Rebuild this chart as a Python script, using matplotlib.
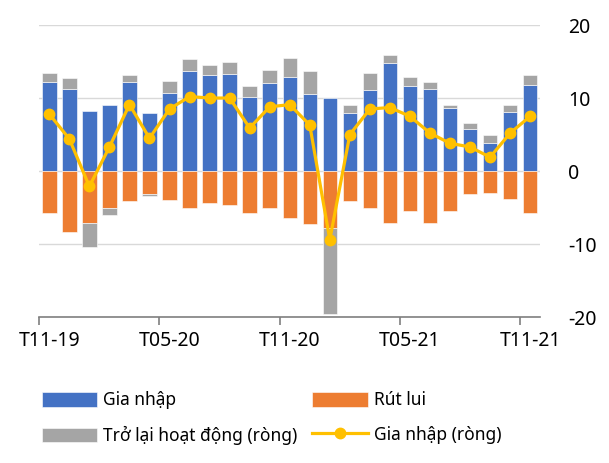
import matplotlib
matplotlib.use("Agg")
import matplotlib.pyplot as plt
import numpy as np

months = ["T11-19", "T12-19", "T01-20", "T02-20", "T03-20", "T04-20", "T05-20",
          "T06-20", "T07-20", "T08-20", "T09-20", "T10-20", "T11-20", "T12-20",
          "T01-21", "T02-21", "T03-21", "T04-21", "T05-21", "T06-21", "T07-21",
          "T08-21", "T09-21", "T10-21", "T11-21"]
gia_nhap = [12.2, 11.3, 8.2, 9.1, 12.2, 7.9, 10.7, 13.7, 13.1, 13.3, 10.2, 12.1, 12.9,
            10.6, 10.0, 8.0, 11.1, 14.8, 11.6, 11.2, 8.7, 5.8, 3.9, 8.1, 11.8]
rut_lui = [-5.7, -8.3, -7.1, -5.0, -4.1, -3.1, -4.0, -5.1, -4.4, -4.7, -5.7, -5.0, -6.4,
           -7.3, -7.8, -4.1, -5.0, -7.1, -5.5, -7.1, -5.4, -3.2, -3.0, -3.8, -5.7]
tro_lai = [1.2, 1.4, -3.3, -1.0, 1.0, -0.3, 1.6, 1.7, 1.4, 1.6, 1.4, 1.7, 2.6,
           3.1, -11.7, 1.0, 2.3, 1.1, 1.3, 1.0, 0.4, 0.8, 1.0, 0.9, 1.4]
rong = [7.8, 4.4, -2.1, 3.3, 9.1, 4.5, 8.5, 10.2, 10.0, 10.0, 5.9, 8.8, 9.1,
        6.3, -9.4, 5.0, 8.5, 8.7, 7.5, 5.2, 3.8, 3.3, 1.9, 5.2, 7.5]
label_months = ["T11-19", "T05-20", "T11-20", "T05-21", "T11-21"]

plt.rcParams["font.family"] = ["Noto Sans", "DejaVu Sans"]
plt.rcParams["axes.unicode_minus"] = False

BLUE = "#4472C4"
ORANGE = "#ED7D31"
GRAY = "#A5A5A5"
GOLD = "#FFC000"

fig = plt.figure(figsize=(6.09, 4.63), dpi=100)
ax = fig.add_axes([0.0645, 0.315, 0.8225, 0.631])

x = np.arange(len(months))
w = 0.72
tro = np.array(tro_lai)
gray_bottom = np.where(tro >= 0, np.array(gia_nhap), np.array(rut_lui))

b_in = ax.bar(x, gia_nhap, w, color=BLUE, edgecolor="white", linewidth=0.4, zorder=2)
b_out = ax.bar(x, rut_lui, w, color=ORANGE, edgecolor="white", linewidth=0.4, zorder=2)
b_back = ax.bar(x, tro, w, bottom=gray_bottom, color=GRAY, edgecolor="white",
                linewidth=0.4, zorder=2)
ln, = ax.plot(x, rong, color=GOLD, lw=2.3, marker="o", ms=7.5, zorder=3)

ax.set_xlim(-0.5, len(months) - 0.5)
ax.set_ylim(-20, 20)
ax.set_yticks([-20, -10, 0, 10, 20])
ax.grid(axis="y", color="#D9D9D9", lw=1, zorder=0)
ax.yaxis.tick_right()
ax.tick_params(axis="y", length=0, pad=20, labelsize=14)
for lbl in ax.get_yticklabels():
    lbl.set_horizontalalignment("left")

for s in ["top", "left", "right"]:
    ax.spines[s].set_visible(False)
ax.spines["bottom"].set_color("#7F7F7F")
ax.spines["bottom"].set_linewidth(1.2)

ax.set_xticks([months.index(m) for m in label_months])
ax.set_xticklabels(label_months)
ax.set_xticks(np.arange(-0.5, len(months) - 0.5, 6), minor=True)
ax.tick_params(axis="x", which="major", length=0, pad=10, labelsize=14)
ax.tick_params(axis="x", which="minor", length=6, width=1.2, color="#7F7F7F")

# ncol=2 fills column by column
handles = [b_in, b_back, b_out, ln]
labels = ["Gia nhập", "Trở lại hoạt động (ròng)", "Rút lui", "Gia nhập (ròng)"]
fig.legend(handles, labels, ncol=2, frameon=False,
           loc="lower left", bbox_to_anchor=(0.043, 0.005), fontsize=12.5,
           handlelength=3.2, handleheight=0.9, handletextpad=0.35,
           columnspacing=0.85, labelspacing=0.95)

fig.savefig("out.png", dpi=100)
